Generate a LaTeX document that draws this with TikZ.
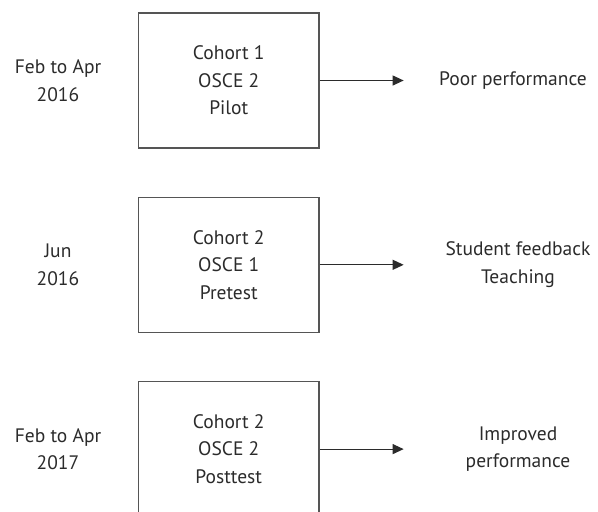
\documentclass[tikz,border=0pt]{standalone}
\usepackage{fontspec}
\setmainfont{PT Sans}
\usetikzlibrary{arrows.meta, positioning}
\usepackage{xcolor}
\definecolor{inkgray}{HTML}{2B2B2B}
\definecolor{linegray}{HTML}{555555}

\begin{document}
\begin{tikzpicture}[
    x=1pt, y=1pt,
    node distance=48pt,
    font=\fontsize{19.5}{27.5}\selectfont,
    every node/.style={text=inkgray},
    cohortbox/.style={rectangle, draw=linegray, line width=1.3pt, minimum width=180.5pt, minimum height=135pt, align=center, inner sep=0pt},
    datelabel/.style={align=center, inner sep=0pt},
    outcome/.style={align=center, inner sep=0pt},
    arrow/.style={-{Triangle[length=11pt, width=10pt]}, line width=1.1pt, draw=inkgray}
]
\useasboundingbox (0,0) rectangle (598,-512);
\clip (0,0) rectangle (598,-512);

\node[cohortbox] (box1) at (228.75,-80.5) {Cohort 1\\OSCE 2\\Pilot};
\node[cohortbox, below=of box1] (box2) {Cohort 2\\OSCE 1\\Pretest};
\node[cohortbox, below=of box2] (box3) {Cohort 2\\OSCE 2\\Posttest};

\node[datelabel] (date1) at (box1.center -| 58,0) {Feb to Apr\\2016};
\node[datelabel] (date2) at (box2.center -| 58,0) {Jun\\2016};
\node[datelabel] (date3) at (box3.center -| 58,0) {Feb to Apr\\2017};

\node[outcome] (out1) at (box1.center -| 513,0) {Poor performance};
\node[outcome] (out2) at (box2.center -| 518,0) {Student feedback\\Teaching};
\node[outcome] (out3) at (box3.center -| 518,0) {Improved\\performance};

\coordinate (tip1) at ([xshift=84pt]box1.east);
\coordinate (tip2) at ([xshift=84pt]box2.east);
\coordinate (tip3) at ([xshift=84pt]box3.east);

\draw[arrow] (box1.east) -- (tip1);
\draw[arrow] (box2.east) -- (tip2);
\draw[arrow] (box3.east) -- (tip3);

\end{tikzpicture}
\end{document}
